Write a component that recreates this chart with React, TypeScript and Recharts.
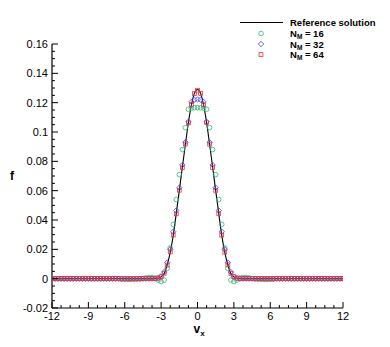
import { ComposedChart, Line, Scatter, XAxis, YAxis } from 'recharts';

// velocity grid
const VX = [
  -12, -11.75, -11.5, -11.25, -11, -10.75, -10.5, -10.25, -10, -9.75, -9.5, -9.25, -9, -8.75, -8.5, -8.25,
  -8, -7.75, -7.5, -7.25, -7, -6.75, -6.5, -6.25, -6, -5.75, -5.5, -5.25, -5, -4.75,
  -4.5, -4.25, -4, -3.75, -3.5, -3.25, -3, -2.75, -2.5, -2.25, -2, -1.75, -1.5, -1.25, -1, -0.75, -0.5, -0.25,
  0,
  0.25, 0.5, 0.75, 1, 1.25, 1.5, 1.75, 2, 2.25, 2.5, 2.75, 3, 3.25, 3.5, 3.75, 4, 4.25, 4.5,
  4.75, 5, 5.25, 5.5, 5.75, 6, 6.25, 6.5, 6.75, 7, 7.25, 7.5, 7.75, 8, 8.25, 8.5, 8.75, 9, 9.25,
  9.5, 9.75, 10, 10.25, 10.5, 10.75, 11, 11.25, 11.5, 11.75, 12,
];

const F_REF = [
  0, 0, 0, 0, 0, 0, 0, 0, 0, 0, 0, 0, 0, 0, 0, 0, 0, 0, 0, 0, 0, 0, 0, 0, 0, 0, 0, 0, 0, 0,
  0, 0, 0, 0, 0.0001, 0.0004, 0.0012, 0.0035, 0.0095, 0.018, 0.0295, 0.0445, 0.06, 0.076, 0.0915, 0.1065, 0.1185, 0.1265,
  0.129,
  0.1265, 0.1185, 0.1065, 0.0915, 0.076, 0.06, 0.0445, 0.0295, 0.018, 0.0095, 0.0035, 0.0012, 0.0004, 0.0001, 0, 0, 0, 0,
  0, 0, 0, 0, 0, 0, 0, 0, 0, 0, 0, 0, 0, 0, 0, 0, 0, 0, 0, 0, 0, 0, 0, 0, 0, 0, 0, 0, 0, 0,
];

const F_16 = [
  0, 0, 0, 0, 0, 0, 0, 0, 0, 0, 0, 0, 0, 0, 0, 0, 0, 0, 0, 0, 0, 0, 0,
  -0.0004, -0.0004, -0.0005, -0.0005, -0.0004, -0.0003, -0.0002,
  0.0001, 0.0005, 0.0008, 0.0008, 0.0004, -0.001, -0.002, -0.001, 0.007, 0.021, 0.037, 0.054, 0.071, 0.088, 0.103, 0.1155, 0.1162, 0.1165,
  0.1166,
  0.1165, 0.1162, 0.1155, 0.103, 0.088, 0.071, 0.054, 0.037, 0.021, 0.007, -0.001, -0.002, -0.001, 0.0004, 0.0008, 0.0008, 0.0005, 0.0001,
  -0.0002, -0.0003, -0.0004, -0.0005, -0.0005, -0.0004, -0.0004,
  0, 0, 0, 0, 0, 0, 0, 0, 0, 0, 0, 0, 0, 0, 0, 0, 0, 0, 0, 0, 0, 0, 0,
];

const F_32 = [
  0, 0, 0, 0, 0, 0, 0, 0, 0, 0, 0, 0, 0, 0, 0, 0, 0, 0, 0, 0, 0, 0, 0, 0, 0, 0, 0, 0, 0, 0,
  0, 0, 0, 0, 0, 0.0004, 0.0015, 0.0045, 0.011, 0.02, 0.032, 0.0465, 0.062, 0.0775, 0.093, 0.107, 0.1205, 0.122,
  0.1222,
  0.122, 0.1205, 0.107, 0.093, 0.0775, 0.062, 0.0465, 0.032, 0.02, 0.011, 0.0045, 0.0015, 0.0004, 0, 0, 0, 0, 0,
  0, 0, 0, 0, 0, 0, 0, 0, 0, 0, 0, 0, 0, 0, 0, 0, 0, 0, 0, 0, 0, 0, 0, 0, 0, 0, 0, 0, 0, 0,
];

const F_64 = [
  0, 0, 0, 0, 0, 0, 0, 0, 0, 0, 0, 0, 0, 0, 0, 0, 0, 0, 0, 0, 0, 0, 0, 0, 0, 0, 0, 0, 0, 0,
  0, 0, 0, 0, 0.0001, 0.0005, 0.0013, 0.0037, 0.0093, 0.0182, 0.0298, 0.0442, 0.0603, 0.0757, 0.0918, 0.1062, 0.1188, 0.1262,
  0.1285,
  0.1263, 0.1186, 0.1064, 0.0917, 0.0758, 0.0602, 0.0444, 0.0297, 0.0181, 0.0094, 0.0036, 0.0013, 0.0004, 0.0001, 0, 0, 0, 0,
  0, 0, 0, 0, 0, 0, 0, 0, 0, 0, 0, 0, 0, 0, 0, 0, 0, 0, 0, 0, 0, 0, 0, 0, 0, 0, 0, 0, 0, 0,
];

const X_TICKS = [
  -12, -11.25, -10.5, -9.75, -9, -8.25, -7.5, -6.75, -6, -5.25, -4.5, -3.75, -3, -2.25, -1.5, -0.75,
  0, 0.75, 1.5, 2.25, 3, 3.75, 4.5, 5.25, 6, 6.75, 7.5, 8.25, 9, 9.75, 10.5, 11.25, 12,
];
const X_LABELED = [-12, -9, -6, -3, 0, 3, 6, 9, 12];

const Y_TICKS = [
  -0.02, -0.015, -0.01, -0.005, 0, 0.005, 0.01, 0.015, 0.02, 0.025, 0.03, 0.035, 0.04, 0.045, 0.05, 0.055,
  0.06, 0.065, 0.07, 0.075, 0.08, 0.085, 0.09, 0.095, 0.1, 0.105, 0.11, 0.115, 0.12, 0.125, 0.13, 0.135,
  0.14, 0.145, 0.15, 0.155, 0.16,
];
const Y_LABELED = [-0.02, 0, 0.02, 0.04, 0.06, 0.08, 0.1, 0.12, 0.14, 0.16];

const FONT = "'Liberation Sans', Arial, Helvetica, sans-serif";
const GREEN = '#2fb872';
const BLUE = '#3b3bf5';
const RED = '#e8343c';

const toPoints = (vals: number[]) => VX.map((v, i) => ({ v, f: vals[i] }));

const XTick = ({ x, y, payload }: any) => {
  const major = X_LABELED.includes(payload.value);
  return (
    <g>
      <line x1={x} x2={x} y1={y} y2={y - (major ? 6 : 3)} stroke="#000" />
      {major && (
        <text x={x} y={y + 12} textAnchor="middle" fontSize={11} fontFamily={FONT} fill="#000">
          {payload.value}
        </text>
      )}
    </g>
  );
};

const YTick = ({ x, y, payload }: any) => {
  const major = Y_LABELED.includes(payload.value);
  return (
    <g>
      <line x1={x + 4} x2={x + 4 + (major ? 6 : 3)} y1={y} y2={y} stroke="#000" />
      {major && (
        <text x={x} y={y + 4} textAnchor="end" fontSize={11} fontFamily={FONT} fill="#000">
          {payload.value}
        </text>
      )}
    </g>
  );
};

const circleShape = (p: any) => (
  <circle cx={p.cx} cy={p.cy} r={2.3} fill="none" stroke={GREEN} strokeWidth={0.8} />
);
const diamondShape = (p: any) => (
  <path
    d={`M${p.cx},${p.cy - 2.7} L${p.cx + 2.7},${p.cy} L${p.cx},${p.cy + 2.7} L${p.cx - 2.7},${p.cy} Z`}
    fill="none"
    stroke={BLUE}
    strokeWidth={0.8}
  />
);
const squareShape = (p: any) => (
  <rect x={p.cx - 1.9} y={p.cy - 1.9} width={3.8} height={3.8} fill="none" stroke={RED} strokeWidth={0.8} />
);

function LegendBox() {
  const txt = { fontSize: 9.5, fontWeight: 700, fontFamily: FONT, fill: '#000' } as const;
  return (
    <svg
      width={390}
      height={347}
      style={{ position: 'absolute', left: 0, top: 0, pointerEvents: 'none' }}
    >
      <line x1={240} x2={283} y1={22.5} y2={22.5} stroke="#000" strokeWidth={1.2} />
      <text x={290} y={26} {...txt}>Reference solution</text>
      <circle cx={261} cy={33.5} r={2.3} fill="none" stroke={GREEN} strokeWidth={0.8} />
      <text x={290} y={37} {...txt}>
        N<tspan fontSize={6.5} dy={2}>M</tspan><tspan dy={-2}> = 16</tspan>
      </text>
      <path d="M261,41.3 L263.7,44 L261,46.7 L258.3,44 Z" fill="none" stroke={BLUE} strokeWidth={0.8} />
      <text x={290} y={47.5} {...txt}>
        N<tspan fontSize={6.5} dy={2}>M</tspan><tspan dy={-2}> = 32</tspan>
      </text>
      <rect x={259.1} y={52.6} width={3.8} height={3.8} fill="none" stroke={RED} strokeWidth={0.8} />
      <text x={290} y={58} {...txt}>
        N<tspan fontSize={6.5} dy={2}>M</tspan><tspan dy={-2}> = 64</tspan>
      </text>
    </svg>
  );
}

export default function App() {
  return (
    <div style={{ position: 'absolute', left: 0, top: 0, width: 390, height: 347, background: '#fff' }}>
      <ComposedChart width={390} height={347} margin={{ top: 44, right: 47, bottom: 0, left: 0 }}>
        <XAxis
          type="number"
          dataKey="v"
          domain={[-12, 12]}
          ticks={X_TICKS}
          interval={0}
          allowDataOverflow
          height={39}
          tickSize={0}
          tickMargin={0}
          tickLine={false}
          tick={<XTick />}
          axisLine={{ stroke: '#000', strokeWidth: 1.2 }}
          label={(props: any) => {
            const vb = props.viewBox;
            return (
              <text x={vb.x + vb.width / 2 - 4} y={vb.y + 25} fontFamily={FONT} fontWeight={700} fill="#000" fontSize={12}>
                v<tspan fontSize={8} dy={3}>x</tspan>
              </text>
            );
          }}
        />
        <YAxis
          type="number"
          dataKey="f"
          domain={[-0.02, 0.16]}
          ticks={Y_TICKS}
          interval={0}
          allowDataOverflow
          width={52}
          tickSize={0}
          tickMargin={4}
          tickLine={false}
          tick={<YTick />}
          axisLine={{ stroke: '#000', strokeWidth: 1.2 }}
          label={(props: any) => {
            const vb = props.viewBox;
            return (
              <text x={vb.x + 10} y={vb.y + vb.height / 2 + 4} fontFamily={FONT} fontWeight={700} fill="#000" fontSize={12}>
                f
              </text>
            );
          }}
        />
        <Line
          data={toPoints(F_REF)}
          dataKey="f"
          type="monotone"
          stroke="#000"
          strokeWidth={1.1}
          dot={false}
          isAnimationActive={false}
        />
        <Scatter data={toPoints(F_16)} shape={circleShape} isAnimationActive={false} />
        <Scatter data={toPoints(F_32)} shape={diamondShape} isAnimationActive={false} />
        <Scatter data={toPoints(F_64)} shape={squareShape} isAnimationActive={false} />
      </ComposedChart>
      <LegendBox />
    </div>
  );
}
